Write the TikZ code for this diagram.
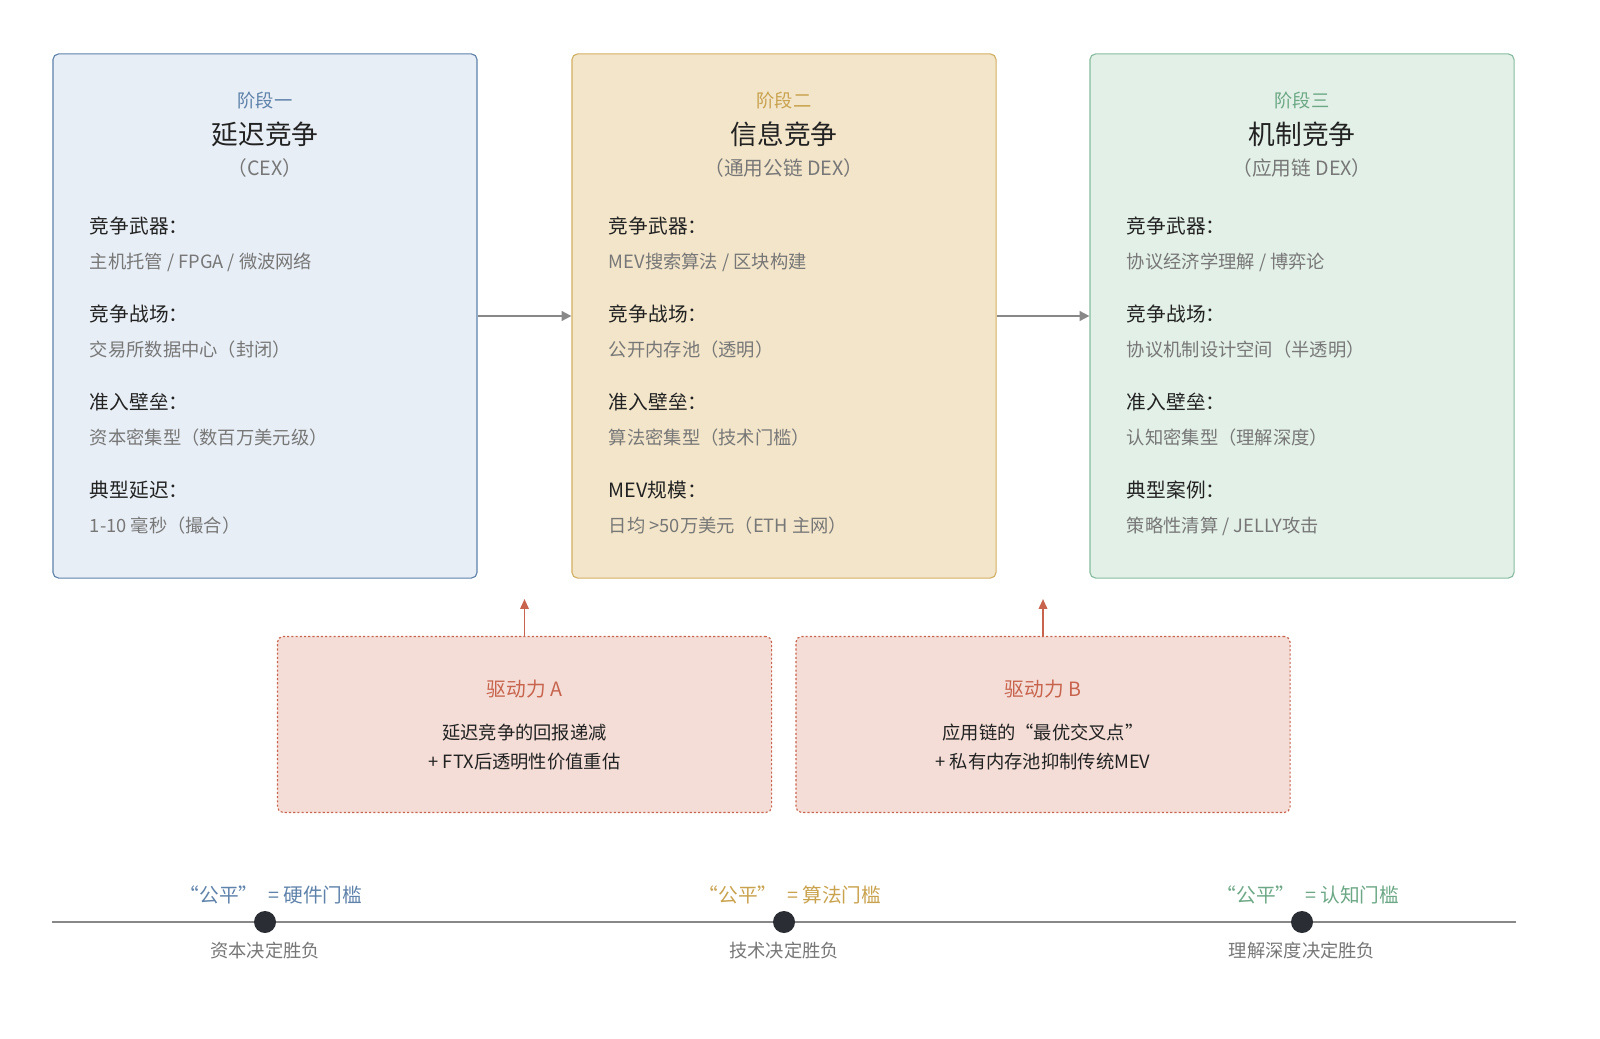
\documentclass[tikz,border=0pt]{standalone}
\usepackage{fontspec}
\setmainfont{Noto Sans CJK SC}
\usetikzlibrary{positioning}
\usetikzlibrary{arrows.meta}
\definecolor{blueline}{HTML}{5E82AA}
\definecolor{bluefill}{HTML}{E8EEF6}
\definecolor{yelline}{HTML}{D3AF62}
\definecolor{yelfill}{HTML}{F2E5CA}
\definecolor{yeltext}{HTML}{C9A24E}
\definecolor{grnline}{HTML}{86BC9D}
\definecolor{grnfill}{HTML}{E2F0E7}
\definecolor{grntext}{HTML}{6CA885}
\definecolor{redline}{HTML}{C8644E}
\definecolor{redfill}{HTML}{F3DDD6}
\definecolor{darktext}{HTML}{222222}
\definecolor{greytext}{HTML}{777777}
\definecolor{arrowgrey}{HTML}{888888}
\definecolor{dotcol}{HTML}{2A2D33}
\tikzset{
  stage/.style={draw, rounded corners=4pt, line width=0.8pt, minimum width=10.6cm, minimum height=13.1cm},
  driver/.style={draw=redline, fill=redfill, rounded corners=4pt, line width=0.8pt, dash pattern=on 1.5pt off 1.5pt, minimum width=12.35cm, minimum height=4.4cm},
  stagelbl/.style={font=\fontsize{13}{15}\selectfont},
  title/.style={font=\fontsize{19}{22}\selectfont, text=darktext},
  subtitle/.style={font=\fontsize{14}{17}\selectfont, text=greytext},
  key/.style={anchor=west, font=\fontsize{14}{17}\selectfont, text=darktext},
  val/.style={anchor=west, font=\fontsize{13}{16}\selectfont, text=greytext},
  flow/.style={-{Triangle[length=7pt,width=7pt]}, line width=1.3pt, draw=arrowgrey},
  push/.style={-{Triangle[length=7pt,width=6pt]}, line width=1.3pt, draw=redline},
  dot/.style={circle, fill=dotcol, inner sep=0pt, minimum size=0.55cm},
  fair/.style={font=\fontsize{14}{17}\selectfont},
  decide/.style={font=\fontsize{13}{16}\selectfont, text=greytext}
}
\begin{document}
\begin{tikzpicture}[x=0.025cm, y=-0.025cm]
  \useasboundingbox (0,0) rectangle (1600,1039);

  % stage boxes
  \node[stage, draw=blueline, fill=bluefill] (cex) at (265,316) {};
  \node[stage, draw=yelline, fill=yelfill] (dex) at (784,316) {};
  \node[stage, draw=grnline, fill=grnfill] (app) at (1302,316) {};

  \draw[flow] (cex) -- (dex);
  \draw[flow] (dex) -- (app);

  % stage one
  \node[stagelbl, text=blueline] (cexlbl) at (265,101) {阶段一};
  \node[title] (cextitle) at (265,134) {延迟竞争};
  \node[subtitle] (cexsub) at (265,168) {（CEX）};
  \node[key] (cexk1) at (85,226) {竞争武器：};
  \node[val] (cexv1) at (85,262) {主机托管 / FPGA / 微波网络};
  \node[key] (cexk2) at (85,314) {竞争战场：};
  \node[val] (cexv2) at (85,350) {交易所数据中心（封闭）};
  \node[key] (cexk3) at (85,402) {准入壁垒：};
  \node[val] (cexv3) at (85,438) {资本密集型（数百万美元级）};
  \node[key] (cexk4) at (85,490) {典型延迟：};
  \node[val] (cexv4) at (85,526) {1-10 毫秒（撮合）};

  % stage two
  \node[stagelbl, text=yeltext] (dexlbl) at (784,101) {阶段二};
  \node[title] (dextitle) at (784,134) {信息竞争};
  \node[subtitle] (dexsub) at (784,168) {（通用公链 DEX）};
  \node[key] (dexk1) at (604,226) {竞争武器：};
  \node[val] (dexv1) at (604,262) {MEV搜索算法 / 区块构建};
  \node[key] (dexk2) at (604,314) {竞争战场：};
  \node[val] (dexv2) at (604,350) {公开内存池（透明）};
  \node[key] (dexk3) at (604,402) {准入壁垒：};
  \node[val] (dexv3) at (604,438) {算法密集型（技术门槛）};
  \node[key] (dexk4) at (604,490) {MEV规模：};
  \node[val] (dexv4) at (604,526) {日均 >50万美元（ETH 主网）};

  % stage three
  \node[stagelbl, text=grntext] (applbl) at (1302,101) {阶段三};
  \node[title] (apptitle) at (1302,134) {机制竞争};
  \node[subtitle] (appsub) at (1302,168) {（应用链 DEX）};
  \node[key] (appk1) at (1122,226) {竞争武器：};
  \node[val] (appv1) at (1122,262) {协议经济学理解 / 博弈论};
  \node[key] (appk2) at (1122,314) {竞争战场：};
  \node[val] (appv2) at (1122,350) {协议机制设计空间（半透明）};
  \node[key] (appk3) at (1122,402) {准入壁垒：};
  \node[val] (appv3) at (1122,438) {认知密集型（理解深度）};
  \node[key] (appk4) at (1122,490) {典型案例：};
  \node[val] (appv4) at (1122,526) {策略性清算 / JELLY攻击};

  % drivers
  \node[driver] (drva) at (524.5,724.5) {};
  \node[driver] (drvb) at (1043,724.5) {};
  \coordinate (tipa) at (524.5,599);
  \coordinate (tipb) at (1043,599);
  \draw[push] (drva) -- (tipa);
  \draw[push] (drvb) -- (tipb);
  \node[fair, text=redline] (drvalbl) at (524.5,689) {驱动力 A};
  \node[align=center, font=\fontsize{13}{21}\selectfont, text=darktext] (drvatxt) at (524.5,747) {延迟竞争的回报递减\\+ FTX后透明性价值重估};
  \node[fair, text=redline] (drvblbl) at (1043,689) {驱动力 B};
  \node[align=center, font=\fontsize{13}{21}\selectfont, text=darktext] (drvbtxt) at (1043,747) {应用链的“最优交叉点”\\+ 私有内存池抑制传统MEV};

  % timeline
  \coordinate (tlstart) at (52,922);
  \coordinate (tlend) at (1516,922);
  \draw[line width=1.2pt, draw=arrowgrey] (tlstart) -- (tlend);
  \node[dot] (dot1) at (265,922) {};
  \node[dot] (dot2) at (784,922) {};
  \node[dot] (dot3) at (1302,922) {};
  \node[fair, text=blueline] (fair1) at (271,895) {“公平”\enspace = 硬件门槛};
  \node[fair, text=yeltext] (fair2) at (790,895) {“公平”\enspace = 算法门槛};
  \node[fair, text=grntext] (fair3) at (1308,895) {“公平”\enspace = 认知门槛};
  \node[decide] (dec1) at (265,951) {资本决定胜负};
  \node[decide] (dec2) at (784,951) {技术决定胜负};
  \node[decide] (dec3) at (1302,951) {理解深度决定胜负};
\end{tikzpicture}
\end{document}
